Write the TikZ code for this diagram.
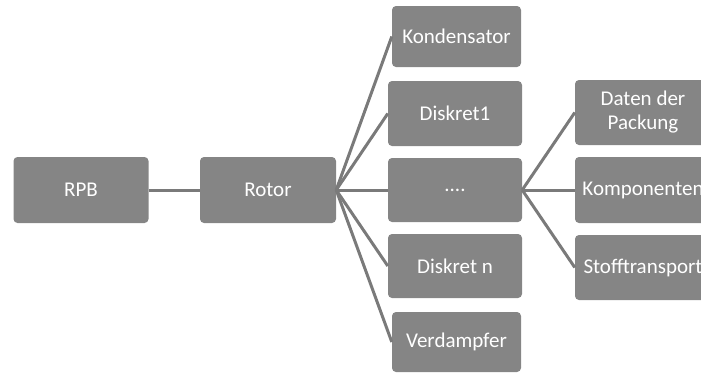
\documentclass[tikz,border=0pt]{standalone}
\usepackage{fontspec}
\setmainfont{Carlito}
\usetikzlibrary{positioning}

\definecolor{boxgray}{HTML}{858585}
\definecolor{linegray}{HTML}{7A7A7A}

\begin{document}
\begin{tikzpicture}[x=1pt, y=-1pt,
    box/.style={rectangle, rounded corners=4pt, fill=boxgray, text=white,
      inner sep=0pt, align=center, font=\fontsize{21}{24}\selectfont},
    link/.style={draw=linegray, line width=3pt}]
  \useasboundingbox (0,0) rectangle (701,378);
  \clip (0,0) rectangle (701,378);
  % left part
  \node (rpb) at (81,190) [box, minimum width=135pt, minimum height=66pt] {RPB};
  \node (rotor) at (268,190) [box, minimum width=136pt, minimum height=66pt] {Rotor};
  % middle column
  \node (kond) at (456.5,36.5) [box, minimum width=129pt, minimum height=61pt] {Kondensator};
  \node (disk1) at (455,113.5) [box, minimum width=134pt, minimum height=65pt] {Diskret1};
  \node (dots) at (455,190) [box, minimum width=134pt, minimum height=64pt] {....};
  \node (diskn) at (455,266) [box, minimum width=134pt, minimum height=64pt] {Diskret n};
  \node (verd) at (456.5,342) [box, minimum width=129pt, minimum height=60pt] {Verdampfer};
  % right column
  \node (daten) at (643,112.5) [box, minimum width=136pt, minimum height=65pt] {Daten der\\Packung};
  \node (komp) at (643,190) [box, minimum width=136pt, minimum height=66pt] {Komponenten};
  \node (stoff) at (643,267.5) [box, minimum width=136pt, minimum height=65pt] {Stofftransport};
  % connectors
  \draw [link] (rpb.east) -- (rotor.west);
  \foreach \n in {kond, disk1, dots, diskn, verd}
    \draw [link] (rotor.east) -- (\n.west);
  \foreach \n in {daten, komp, stoff}
    \draw [link] (dots.east) -- (\n.west);
\end{tikzpicture}
\end{document}
